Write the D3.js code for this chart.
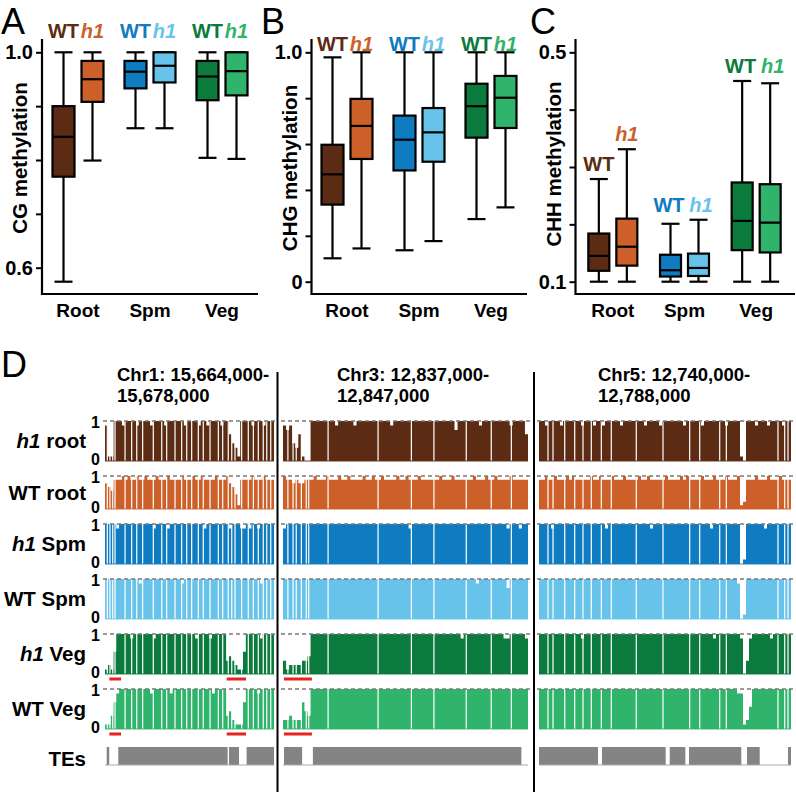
<!DOCTYPE html>
<html><head><meta charset="utf-8">
<script src="https://cdn.jsdelivr.net/npm/d3@7"></script>
<style>body{margin:0;background:#fff}svg{display:block}</style>
</head><body>
<svg id="c" width="796" height="792"></svg>
<script>
// ---------- DATA ----------
const groups = ["Root", "Spm", "Veg"];
const genotypes = ["WT", "h1"];
// box stats: [min, q1, median, q3, max] for Root, Spm, Veg
const cgWT  = [[0.574,0.769,0.843,0.900,1.0],[0.859,0.933,0.964,0.984,1.0],[0.804,0.911,0.955,0.984,1.0]];
const cgH1  = [[0.799,0.908,0.950,0.984,1.0],[0.859,0.944,0.975,1.000,1.0],[0.802,0.920,0.965,1.000,1.0]];
const chgWT = [[0.102,0.336,0.468,0.597,0.978],[0.137,0.485,0.619,0.724,1.0],[0.273,0.628,0.765,0.863,1.0]];
const chgH1 = [[0.145,0.535,0.679,0.797,1.0],[0.177,0.523,0.651,0.757,1.0],[0.324,0.670,0.802,0.897,1.0]];
const chhWT = [[0.1,0.119,0.145,0.184,0.279],[0.1,0.109,0.120,0.147,0.201],[0.1,0.155,0.206,0.273,0.450]];
const chhH1 = [[0.1,0.128,0.161,0.210,0.331],[0.1,0.110,0.124,0.149,0.208],[0.1,0.151,0.203,0.270,0.446]];
const cgTicks = [0.6,0.7,0.8,0.9,1.0],  cgTickLabels = ["0.6","","","","1.0"];
const chgTicks = [0,0.2,0.4,0.6,0.8,1.0], chgTickLabels = ["0","","","","","1.0"];
const chhTicks = [0.1,0.2,0.3,0.4,0.5], chhTickLabels = ["0.1","","","","0.5"];

// panel D
const regionChr = ["Chr1", "Chr3", "Chr5"];
const regionStart = [15664000, 12837000, 12740000];
const regionEnd = [15678000, 12847000, 12788000];
const trackNames = [["h1","root"],["WT","root"],["h1","Spm"],["WT","Spm"],["h1","Veg"],["WT","Veg"]];
// methylation per bin, digit d = d/9, one string per region
const h1Root = ["8119"+"9989999899"+"9989999899"+"9999899998"+"9989999899"+"643199"+"9989998999",
  "878436100"+"9999999989"+"9999899999"+"9999998999"+"9999999999"+"9999999799"+"9999989999"+"9999989999"+"6",
  "9989999899"+"9999899989"+"9899999899"+"9999989999"+"8999999989"+"9999899999"+"9989999"+"10"+"999899989999899"];
const wtRoot = ["7658"+"8898988988"+"9888988898"+"8889888988"+"9888898889"+"764188"+"8898889888",
  "988787788"+"8988898889"+"8898888988"+"9889888898"+"8988898888"+"8898889888"+"8889888988"+"9888898888"+"8",
  "8898898889"+"8988888988"+"9888988898"+"8889889888"+"8898888989"+"8888988898"+"8898889"+"12"+"888988898889888"];
const h1Spm = ["9999899999"+"9999999899"+"9989999999"+"9999989999"+"9999899988"+"9899899999",
  "899999999"+"9999999999"+"9999999999"+"9999999999"+"9989999999"+"9999999999"+"9999999999"+"9999899989"+"9",
  "9999899999"+"9999999999"+"9989999999"+"9999999899"+"9999999999"+"9999999899"+"9999999"+"01"+"999999899999999"];
const wtSpm = ["9999999999"+"9989999999"+"9999999899"+"9999999999"+"9999999999"+"9999989999",
  "999999999"+"9999999999"+"9999999999"+"9999999999"+"9999999999"+"9999999999"+"9999899999"+"9999799999"+"9",
  "9999999999"+"9999999999"+"9999999999"+"9999999999"+"9999999999"+"9999999999"+"9999998"+"01"+"999999999999999"];
const h1Veg = ["12159"+"9999899999"+"9989999999"+"9999999899"+"99899999"+"3432115"+"9999989999",
  "312222334"+"9999999999"+"9999999999"+"9999999999"+"9999999999"+"9999999998"+"9999999999"+"9998899999"+"8",
  "9999999999"+"9999899999"+"9999999999"+"9999999999"+"9999999999"+"9999999989"+"9999999"+"80"+"389999998999999"];
const wtVeg = ["11368"+"9999999999"+"9899999989"+"9999999999"+"99989999"+"3421116"+"9999899999",
  "223222643"+"9999999999"+"9999999999"+"9999999999"+"9999999999"+"9999999999"+"9999999999"+"9999999999"+"9",
  "9999999999"+"9999999999"+"9999999999"+"9999999999"+"9999999999"+"9999999999"+"9999998"+"81"+"259999999999999"];
// positions without data (kb from region start)
const gapsR1 = [0.19,0.41,0.64,0.83,1.66,2.21,2.63,3.12,4.00,4.70,5.11,5.80,6.35,6.77,7.18,7.73,8.14,8.70,9.39,9.75,10.21,10.50,10.77,11.32,11.87,12.29,12.70,13.11,13.40,13.73];
const gapsR2 = [0.20,0.41,0.54,0.75,0.95,1.05,1.84,3.88,5.24,6.16,7.48,8.50,9.32];
const gapsR3 = [1.71,2.67,4.90,6.80,8.38,9.96,11.87,13.77,18.53,23.62,28.70,30.61,34.42,35.68,45.52,46.80,47.43];
// transposable elements (kb)
const teR1 = [[0.14,0.35],[1.10,10.16],[10.27,11.10],[11.73,14.0]];
const teR2 = [[0.04,0.78],[1.22,9.73]];
const teR3 = [[0,11.24],[12.0,24.13],[24.9,27.87],[28.57,38.53],[39.62,42.04],[47.43,48]];
// red marked hypomethylated segments (kb)
const redR1 = [[0.36,1.33],[10.08,11.68]];
const redR2 = [[0.04,1.18]];
const redR3 = [];

// ---------- STYLE / LAYOUT ----------
const FONT = '"Liberation Sans", Arial, Helvetica, sans-serif';
const boxColors = [["#5b2c13","#cd5f28"],["#0f7bc0","#67c3ea"],["#0b7a3d","#30b36b"]];
const trackColors = ["#5b2c13","#cd5f28","#0f7bc0","#67c3ea","#0b7a3d","#30b36b"];
const svg = d3.select("#c");

const panels = [
  {letter:"A", lx:1, stats:[cgWT,cgH1], ticks:cgTicks, tl:cgTickLabels, title:"CG methylation", tx:27, ty:158,
   domain:[0.6,1.0], yr:[267.7,52.3], x0:42, x1:258, bx:[42,258], sub:14.5, bw:22, labY:38},
  {letter:"B", lx:261, stats:[chgWT,chgH1], ticks:chgTicks, tl:chgTickLabels, title:"CHG methylation", tx:297, ty:168,
   domain:[0,1], yr:[281.7,52.3], x0:311.5, x1:527, bx:[311,527], sub:14.5, bw:22, labY:51},
  {letter:"C", lx:530, stats:[chhWT,chhH1], ticks:chhTicks, tl:chhTickLabels, title:"CHH methylation", tx:561, ty:164,
   domain:[0.1,0.5], yr:[281.7,52.3], x0:575.5, x1:795, bx:[577,792], sub:14, bw:21, labY:null}
];

panels.forEach(p => {
  const g = svg.append("g");
  g.append("text").attr("x",p.lx).attr("y",34).text(p.letter)
    .attr("font-family",FONT).attr("font-size",36).attr("fill","#000");
  const y = d3.scaleLinear().domain(p.domain).range(p.yr);
  const xg = d3.scaleBand().domain(groups).range(p.bx);
  const ax = g.append("g").attr("transform",`translate(${p.x0},0)`)
    .call(d3.axisLeft(y).tickValues(p.ticks).tickFormat((d,i)=>p.tl[i]).tickSize(6).tickPadding(3));
  ax.select(".domain").remove();
  ax.selectAll("line").attr("stroke","#000").attr("stroke-width",2);
  ax.selectAll("text").attr("font-family",FONT).attr("font-weight","bold").attr("font-size",20).attr("fill","#000");
  g.append("path").attr("d",`M${p.x0},39V294H${p.x1}`).attr("fill","none").attr("stroke","#000").attr("stroke-width",2.2);
  g.append("text").attr("transform",`translate(${p.tx},${p.ty}) rotate(-90)`).attr("text-anchor","middle")
    .attr("font-family",FONT).attr("font-weight","bold").attr("font-size",20.5).text(p.title);
  groups.forEach((grp,gi) => {
    g.append("text").attr("x",xg(grp)+xg.bandwidth()/2).attr("y",317).attr("text-anchor","middle")
      .attr("font-family",FONT).attr("font-weight","bold").attr("font-size",19).text(grp);
    const pairMax = Math.max(p.stats[0][gi][4], p.stats[1][gi][4]);
    const samelevel = Math.abs(p.stats[0][gi][4]-p.stats[1][gi][4]) < 0.02;
    genotypes.forEach((gt,ti) => {
      const s = p.stats[ti][gi];
      const cx = xg(grp)+xg.bandwidth()/2 + (ti===0 ? -p.sub : p.sub);
      const col = boxColors[gi][ti];
      const bg = g.append("g").attr("stroke","#000").attr("stroke-width",2.2);
      bg.append("line").attr("x1",cx).attr("x2",cx).attr("y1",y(s[0])).attr("y2",y(s[4]));
      bg.append("line").attr("x1",cx-9).attr("x2",cx+9).attr("y1",y(s[0])).attr("y2",y(s[0]));
      bg.append("line").attr("x1",cx-9).attr("x2",cx+9).attr("y1",y(s[4])).attr("y2",y(s[4]));
      bg.append("rect").attr("x",cx-p.bw/2).attr("width",p.bw).attr("y",y(s[3])).attr("height",y(s[1])-y(s[3])).attr("fill",col);
      bg.append("line").attr("x1",cx-p.bw/2).attr("x2",cx+p.bw/2).attr("y1",y(s[2])).attr("y2",y(s[2]));
      const ly = p.labY !== null ? p.labY : (samelevel ? y(pairMax) : y(s[4])) - 8;
      const lx = cx + (p.labY === null && samelevel ? (ti===0 ? -1.5 : 2.5) : 0);
      g.append("text").attr("x",lx).attr("y",ly).attr("text-anchor","middle")
        .attr("font-family",FONT).attr("font-weight","bold").attr("font-size",20)
        .attr("font-style", gt==="h1" ? "italic" : "normal").attr("fill",col).text(gt);
    });
  });
});

// ---------- PANEL D ----------
const D = svg.append("g");
D.append("text").attr("x",1).attr("y",377).text("D").attr("font-family",FONT).attr("font-size",36);
const regionX = [[105,274],[283,528],[539,791]];
const titleX = [117,337,598];
const sepX = [277.5,534];
const trackTop = [421,476,524,579,634,689];
const trackBase = [461,509,564,619,674,729];
const teTop = 747, teBase = 765;
const tracks = [h1Root, wtRoot, h1Spm, wtSpm, h1Veg, wtVeg];
const gaps = [gapsR1,gapsR2,gapsR3], tes=[teR1,teR2,teR3], reds=[redR1,redR2,redR3];
const fmt = d3.format(",");

sepX.forEach(x => D.append("line").attr("x1",x).attr("x2",x).attr("y1",372).attr("y2",792).attr("stroke","#000").attr("stroke-width",2));

regionChr.forEach((chr,r) => {
  const t = D.append("text").attr("font-family",FONT).attr("font-weight","bold").attr("font-size",18.5);
  t.append("tspan").attr("x",titleX[r]).attr("y",381).text(`${chr}: ${fmt(regionStart[r])}-`);
  t.append("tspan").attr("x",titleX[r]).attr("y",402).text(fmt(regionEnd[r]));
  const len = (regionEnd[r]-regionStart[r])/1000;
  const x = d3.scaleLinear().domain([0,len]).range(regionX[r]);
  tracks.forEach((tr,ti) => {
    const vals = tr[r].split("").map(c => +c/9);
    const n = vals.length, bw = len/n;
    const pts = vals.map((v,i) => [i*bw, v]).concat([[len, vals[n-1]]]);
    const y = d3.scaleLinear().domain([0,1]).range([trackBase[ti],trackTop[ti]]);
    const tg = D.append("g");
    const area = d3.area().curve(d3.curveStepAfter).x(d=>x(d[0])).y0(y(0)).y1(d=>y(d[1]));
    tg.append("path").attr("d",area(pts)).attr("fill",trackColors[ti]);
    tg.selectAll("rect.g").data(gaps[r]).join("rect").attr("class","g")
      .attr("x",d=>x(d)-0.6).attr("width",1.2).attr("y",y(1)-1).attr("height",y(0)-y(1)+1).attr("fill","#fff");
    tg.append("line").attr("x1",regionX[r][0]).attr("x2",regionX[r][1]).attr("y1",y(0)).attr("y2",y(0))
      .attr("stroke",trackColors[ti]).attr("stroke-opacity",0.6).attr("stroke-width",1.5);
    tg.append("line").attr("x1",regionX[r][0]-2).attr("x2",regionX[r][1]+2).attr("y1",y(1)).attr("y2",y(1))
      .attr("stroke","#7a7a7a").attr("stroke-width",1.3).attr("stroke-dasharray","4,3");
    if (ti >= 4) {
      tg.selectAll("rect.r").data(reds[r]).join("rect").attr("class","r")
        .attr("x",d=>x(d[0])).attr("width",d=>x(d[1])-x(d[0])).attr("y",y(0)+3.5).attr("height",3).attr("fill","#e8231f");
    }
  });
  D.selectAll(null).data(tes[r]).join("rect").attr("x",d=>x(d[0])).attr("width",d=>x(d[1])-x(d[0]))
    .attr("y",teTop).attr("height",teBase-teTop).attr("fill","#848484");
  D.append("line").attr("x1",regionX[r][0]).attr("x2",regionX[r][1]).attr("y1",teBase).attr("y2",teBase)
    .attr("stroke","#aaa").attr("stroke-width",1);
});

trackNames.forEach((nm,ti) => {
  const t = D.append("text").attr("x",86).attr("y",(trackTop[ti]+trackBase[ti])/2).attr("dy","0.36em")
    .attr("text-anchor","end").attr("font-family",FONT).attr("font-weight","bold").attr("font-size",20.5);
  t.append("tspan").attr("font-style", nm[0]==="h1"?"italic":"normal").text(nm[0]);
  t.append("tspan").text(" "+nm[1]);
  [[trackTop[ti]+1,"1"],[trackBase[ti]-2,"0"]].forEach(([yy,lab]) =>
    D.append("text").attr("x",100).attr("y",yy).attr("dy","0.35em").attr("text-anchor","end")
      .attr("font-family",FONT).attr("font-weight","bold").attr("font-size",16).text(lab));
});
D.append("text").attr("x",86).attr("y",(teTop+teBase)/2+3).attr("dy","0.36em").attr("text-anchor","end")
  .attr("font-family",FONT).attr("font-weight","bold").attr("font-size",20.5).text("TEs");
</script>
</body></html>
